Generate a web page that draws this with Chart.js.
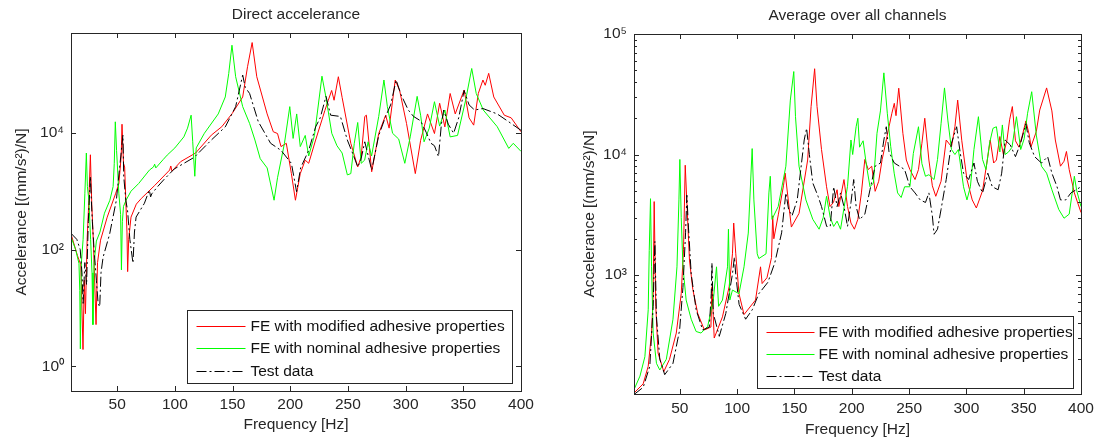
<!DOCTYPE html>
<html><head><meta charset="utf-8">
<script src="https://cdn.jsdelivr.net/npm/chart.js@4"></script>
<style>
html,body{margin:0;padding:0;background:#fff;}
#wrap{position:relative;width:1102px;height:442px;overflow:hidden;}
canvas{position:absolute;top:0;}
</style></head><body>
<div id="wrap">
<canvas id="c1" width="550" height="442" style="left:0"></canvas>
<canvas id="c2" width="552" height="442" style="left:550px"></canvas>
</div>
<script>
// ---------- DATA ([frequency Hz, accelerance (mm/s^2)/N]) ----------
const seriesLabels = ['FE with modified adhesive properties', 'FE with nominal adhesive properties', 'Test data'];
const xTicks = [50, 100, 150, 200, 250, 300, 350, 400];
const yTicksLeft = [1, 100, 10000];
const yTicksRight = [1000, 10000, 100000];
const yMinorRight = [200,300,400,500,600,700,800,900,2000,3000,4000,5000,6000,7000,8000,9000,20000,30000,40000,50000,60000,70000,80000,90000];

const directRed = [[10,185],[15.5,80],[18.5,55],[20.4,1.95],[21.5,30],[22.5,8],[24,150],[25.5,700],[26.8,4200],[28,600],[29.5,120],[31.7,5.2],[33,60],[35.6,145],[41.4,360],[48.6,900],[51.5,1350],[53.5,4000],[54.2,14000],[55.5,3000],[56.5,2600],[57.5,700],[58.5,200],[59.1,42],[60,150],[62,360],[66.6,600],[70.9,750],[82.5,1250],[95.5,2300],[96.5,2700],[97.5,2200],[105,3200],[118,4500],[131.6,9100],[140.7,12700],[149.7,21400],[158.8,41000],[163,135000],[167,350000],[171,91000],[180,21000],[185.3,10400],[189,9700],[192,5800],[196.6,6600],[201,2000],[204.5,700],[208.7,2000],[213,3400],[216,3000],[222,7500],[230,24000],[233,36000],[235.9,53000],[238,36000],[241.7,91000],[245,40000],[252.5,6600],[258.5,2600],[261.5,3900],[264.6,19000],[266,20000],[270.6,2150],[276.7,9700],[282.7,20000],[285.7,12000],[291,80000],[294.8,53000],[300.8,14400],[308.4,2000],[313,7400],[319,21000],[325,9700],[329.5,32000],[334,12600],[338.6,47000],[343,21000],[350.7,54000],[355,18000],[359,13500],[363,47000],[367,80000],[369,65000],[372,104000],[376.4,41000],[385.5,20000],[391.5,18000],[400,10400]];

const directGreen = [[10,165],[14,100],[16.9,58],[17.6,20],[18.1,2.0],[19,60],[20.5,150],[22,900],[23.3,4500],[24.2,1200],[25.5,700],[27,150],[28.2,40],[29,5.2],[30,60],[32,140],[35.1,200],[39,420],[43.7,700],[46.5,1200],[47.5,3000],[48.4,15400],[49.5,5000],[51.5,900],[53,400],[53.7,45],[54.5,300],[55.5,550],[57.7,700],[62,1000],[68.6,1350],[78,2300],[81.5,2600],[82.5,2900],[83.5,2500],[90,3500],[93.4,4150],[100,5500],[107.8,8500],[111,12000],[114.1,20000],[115.5,7000],[117.3,1800],[118.5,5500],[125.6,9800],[137.6,21000],[143.7,41000],[146.7,103000],[149.5,315000],[152.7,91000],[158.8,28000],[164.8,14400],[169.4,7500],[174,3600],[180,2500],[186,700],[189,1700],[195,6600],[199.6,28000],[202.5,8000],[205.6,21000],[208.7,5800],[213,9000],[216,4000],[221,9000],[227.5,93000],[231,40000],[236,9800],[240.5,6000],[245,4500],[249.5,1900],[252.5,2000],[255.5,6600],[258.5,15000],[261.5,3000],[264.5,3400],[267.5,7000],[270.5,4000],[276.7,19000],[281.2,80000],[284.2,28000],[288.7,9800],[294,7800],[299.3,3000],[304,8500],[310,42000],[313,20000],[316,7000],[320.5,12000],[325,34000],[329.5,13000],[334,24500],[338.6,8500],[345,9000],[352,36000],[357.3,126000],[361.2,47000],[367.3,24500],[379.4,12700],[389.4,5400],[393.3,6600],[400,4800]];

const directTest = [[10,190],[15,150],[18,100],[19.5,40],[20.5,12],[22,60],[23.5,25],[25,300],[26.8,1800],[27.5,800],[28.5,300],[30,100],[32,30],[33.5,12],[34.9,10.5],[36,40],[37.8,74],[43.5,185],[49.3,700],[52.2,2600],[55,9100],[55.7,1800],[57.5,700],[59,470],[61,150],[63.7,59],[65,200],[66.4,360],[73.6,620],[77.9,1050],[79,800],[80,900],[85.1,1200],[90.8,1600],[99.5,2400],[116.8,3800],[131.6,7500],[143.7,12600],[152.7,28000],[158.8,97000],[161,60000],[164.8,47000],[172.3,15500],[183,6600],[192,5000],[201,3000],[205.5,980],[209,2500],[216,5000],[222,12600],[226,18000],[231,42000],[235,20000],[243.5,19000],[249.5,7500],[255,4000],[258.5,2600],[261,3300],[264.6,7000],[270.6,2300],[276.7,9000],[282.7,19000],[287,30000],[291.8,80000],[296,45000],[302.3,24500],[306.9,19000],[313,16000],[318,10000],[322,6600],[325,6000],[328.5,3900],[331,14000],[333,24500],[337,14000],[341.6,9800],[346,18000],[350.7,53000],[355,30000],[359.8,24500],[367,26000],[379.4,21000],[391.5,14400],[400,11000]];

const avgRed = [[10,105],[18,125],[22.4,175],[25.3,330],[26.7,660],[27.6,4070],[29,550],[31,225],[36,158],[41,200],[46.9,330],[51.2,700],[53.2,1620],[54.7,8150],[56.4,3500],[58.4,1330],[61.3,760],[65.6,480],[71.4,350],[77.1,370],[78,800],[80,300],[87.2,450],[93,800],[95.9,1500],[97,2700],[98.8,1500],[101.6,700],[106,470],[116,620],[120.4,1170],[121.8,850],[126,950],[130,1400],[131,3100],[132,2000],[136,3200],[140.4,5500],[141.9,7000],[147.3,2500],[154,3250],[161.5,9000],[164.5,25000],[167.6,51500],[169.7,25000],[173.6,11000],[178,5400],[181,3700],[184,4000],[187.2,5100],[188.7,3700],[193.2,6200],[196.3,3700],[199.3,2700],[202.3,2400],[205.3,2900],[208.4,4800],[211.4,9100],[214.4,7500],[217.4,8000],[220.4,4950],[223.5,6000],[226.5,9100],[229.5,12400],[232.5,17000],[235,22000],[237.1,26600],[238.6,21000],[241,35500],[244.6,15000],[247.6,9000],[250.7,7500],[255.2,6200],[258.2,7500],[261.2,12400],[263.7,20000],[267.3,9000],[270.3,5500],[273.3,4500],[277.9,6000],[282.4,13200],[287,11600],[290,17000],[292.4,28300],[296,13000],[300.5,6200],[305.1,4200],[308.7,3600],[314.1,5000],[318.7,9600],[320.8,13200],[323.8,8500],[326.2,9000],[329.2,14100],[332.3,10000],[335.3,13000],[337.7,19400],[340.1,25000],[342.8,13000],[345.9,11500],[348.9,14500],[351.9,19000],[354.9,14500],[356.4,11600],[361,15500],[364,23400],[370,35700],[374.6,23000],[377.6,13200],[382.1,8000],[385.2,8800],[387.3,10600],[389.7,7500],[394.2,4800],[400,3300]];

const avgGreen = [[10,112],[15.2,145],[19.5,210],[22.4,515],[23.3,1600],[24.4,4300],[25.3,1170],[26.7,330],[29.6,185],[32.5,163],[38.2,200],[44,430],[47.5,1170],[49.2,4200],[50,9100],[51.2,3000],[52.7,1170],[55.5,620],[59.9,430],[64.2,340],[68.5,330],[74.3,375],[79.2,620],[82,1170],[83.8,550],[87.2,620],[91.6,1170],[92.4,2400],[93.6,620],[95.9,750],[101.6,700],[106,1170],[109.7,2230],[111.7,5800],[113.1,11200],[114.6,4200],[117.5,1500],[118.9,1370],[125.2,1500],[127.7,4800],[128.9,6600],[130.4,2900],[135.8,3700],[142.5,8000],[146.4,28300],[149.4,48800],[150.9,20600],[154,8000],[160,4200],[166,2900],[171.5,2400],[175.1,3000],[178,4500],[181.2,3000],[184.2,2530],[187.2,2800],[190.2,2400],[196.3,5450],[199.3,13200],[200.8,10000],[203.8,17000],[205.3,20000],[206.8,11500],[209.9,13000],[212.9,8000],[215.9,5400],[218.9,5800],[222,15000],[225,23000],[228,47600],[231,22000],[234,11600],[237,7000],[240,4800],[243.1,4400],[246.1,5400],[250.7,5400],[253.7,10200],[258.2,17000],[261.2,8400],[264.3,6600],[267.3,6800],[271.8,6200],[274.8,9100],[277.9,18000],[280.9,35700],[283.9,19000],[287,11000],[290,10000],[293,11000],[297.5,5400],[300.5,4200],[303.5,5400],[306.6,11000],[310.5,20600],[314.1,9100],[317.1,7500],[320.2,12400],[323.2,16500],[326.2,17000],[329.2,10500],[331.4,17600],[333.8,10000],[336.8,10500],[339.8,11500],[343.7,20600],[347.4,11000],[350.4,13500],[353.4,22000],[357,33200],[361,14500],[365.5,8000],[370,7000],[374.6,5100],[380.6,3500],[385.2,2960],[389.7,3200],[392.7,5100],[394.2,6600],[396.3,5000],[400,3700]];

const avgTest = [[10,102],[18,117],[23.8,175],[26.7,550],[28.2,1900],[29.6,450],[32.5,200],[36.8,149],[44,185],[49.8,350],[52.7,790],[55,2240],[56.1,4600],[57.5,2500],[59.9,1020],[64.2,515],[69.9,350],[75.7,370],[77.4,700],[78,1260],[79.2,480],[84.4,310],[90.1,480],[95.9,1020],[97.6,1410],[98.8,1000],[101.7,570],[107.4,430],[113.2,515],[118.9,700],[126.8,870],[132.8,1260],[138.8,2240],[142.5,4800],[144.9,3500],[147.9,3100],[152.4,4200],[155.5,7500],[158.5,13200],[160.6,16500],[163,10000],[166,5800],[170.6,4500],[173.6,3700],[178.1,2530],[181.2,2530],[184.2,5400],[187.2,3700],[190.2,4800],[193.2,3700],[196.3,2530],[199.3,4000],[201.7,6200],[203.8,3700],[206.8,2880],[211.4,3200],[215.9,5100],[220.4,8000],[225,8500],[228,13200],[230.1,17000],[232.5,10500],[237.1,8500],[241.6,8000],[246.1,7500],[250.7,5400],[255.2,4800],[259.7,4200],[264.3,4000],[267.3,4800],[270.3,3100],[271.8,2180],[274.8,2400],[277.9,3500],[282.4,6200],[287,12400],[291.5,17000],[294.5,10500],[297.5,7000],[302,6200],[306.6,8500],[309.6,6000],[314.1,4800],[318.7,7000],[322.6,5400],[327.7,5100],[330.8,7000],[333.8,13200],[338.3,12000],[342.8,9600],[347.4,12500],[351.9,18000],[354.9,12500],[359.5,9600],[365.5,8500],[370.9,9600],[374.6,7000],[379.1,5400],[382.1,4200],[386.7,4200],[391.2,4800],[395.7,5100],[400,5400]];

// ---------- STYLE ----------
const FONT = '"Liberation Sans", Arial, Helvetica, sans-serif';
const FS = 15.5;
const AXC = '#262626';
const SUP = {'0':'\u2070','1':'\u00b9','2':'\u00b2','3':'\u00b3','4':'\u2074','5':'\u2075','6':'\u2076'};
function logLabel(v){ const e = Math.round(Math.log10(v)); return '10' + String(e).split('').map(c=>SUP[c]||c).join(''); }

const seriesStyles = [
  {borderColor:'#ff0000', borderDash:[], order:3},
  {borderColor:'#00ff00', borderDash:[], order:2},
  {borderColor:'#000000', borderDash:[10,3,2,3], order:1}
];

const framePlugin = {
  id: 'matlabFrame',
  afterDatasetsDraw(chart, args, opts) {
    const {ctx, chartArea: a, scales: {x, y}} = chart;
    ctx.save();
    ctx.strokeStyle = AXC; ctx.lineWidth = 1;
    ctx.beginPath();
    xTicks.forEach(v => { const p = Math.round(x.getPixelForValue(v)) + 0.5;
      ctx.moveTo(p, a.bottom); ctx.lineTo(p, a.bottom - 5);
      ctx.moveTo(p, a.top); ctx.lineTo(p, a.top + 5); });
    (opts.major || []).forEach(v => { const p = Math.round(y.getPixelForValue(v)) + 0.5;
      ctx.moveTo(a.left, p); ctx.lineTo(a.left + 5, p);
      ctx.moveTo(a.right, p); ctx.lineTo(a.right - 5, p); });
    (opts.minor || []).forEach(v => { const p = Math.round(y.getPixelForValue(v)) + 0.5;
      ctx.moveTo(a.left, p); ctx.lineTo(a.left + 3, p);
      ctx.moveTo(a.right, p); ctx.lineTo(a.right - 3, p); });
    ctx.stroke();
    ctx.strokeRect(Math.round(a.left) + 0.5, Math.round(a.top) + 0.5, Math.round(a.right - a.left), Math.round(a.bottom - a.top));
    ctx.restore();
  },
  afterDraw(chart, args, opts) {
    const {ctx, chartArea: a} = chart;
    ctx.save();
    ctx.fillStyle = AXC;
    ctx.font = FS + 'px ' + FONT;
    ctx.textAlign = 'center'; ctx.textBaseline = 'middle';
    ctx.fillText(opts.title, (a.left + a.right) / 2, opts.titleY);
    const L = opts.legend;
    const bx = Math.round(a.right - L.fromRight) + 0.5, by = Math.round(a.bottom - L.fromBottom) + 0.5;
    ctx.fillStyle = '#fff';
    ctx.fillRect(bx, by, L.w, L.h);
    ctx.strokeStyle = AXC; ctx.lineWidth = 1;
    ctx.strokeRect(bx, by, L.w, L.h);
    chart.data.datasets.forEach((ds, i) => {
      const ry = Math.round(by + L.rows[i]) + 0.5;
      ctx.strokeStyle = ds.borderColor; ctx.lineWidth = 1;
      ctx.setLineDash(ds.borderDash || []);
      ctx.beginPath(); ctx.moveTo(bx + L.l0, ry); ctx.lineTo(bx + L.l1, ry); ctx.stroke();
      ctx.setLineDash([]);
      ctx.fillStyle = '#111';
      ctx.textAlign = 'left'; ctx.textBaseline = 'middle';
      ctx.fillText(ds.label, bx + L.tx, ry);
    });
    ctx.restore();
  }
};

function makeChart(id, sets, cfg) {
  return new Chart(document.getElementById(id), {
    type: 'line',
    data: {
      datasets: sets.map((s, i) => Object.assign({
        label: seriesLabels[i],
        data: s.map(p => ({x: p[0], y: p[1]})),
        borderWidth: 1, pointRadius: 0, tension: 0, fill: false
      }, seriesStyles[i]))
    },
    options: {
      responsive: false, animation: false,
      layout: {padding: cfg.pad},
      plugins: {
        legend: {display: false}, tooltip: {enabled: false}, title: {display: false},
        matlabFrame: {title: cfg.title, titleY: cfg.titleY, major: cfg.yTicks, minor: cfg.minor, legend: cfg.legend}
      },
      scales: {
        x: {
          type: 'linear', min: 10, max: 400,
          grid: {display: false, drawTicks: false}, border: {display: false},
          afterBuildTicks: s => { s.ticks = xTicks.map(v => ({value: v})); },
          afterFit: s => { s.height = cfg.xH; },
          ticks: {color: AXC, font: {family: FONT, size: FS}, padding: cfg.xTickPad, maxRotation: 0, autoSkip: false},
          title: {display: true, text: 'Frequency [Hz]', color: AXC, font: {family: FONT, size: FS}, padding: {top: 0, bottom: cfg.xTitlePad}}
        },
        y: {
          type: 'logarithmic', min: cfg.yMin, max: cfg.yMax,
          grid: {display: false, drawTicks: false}, border: {display: false},
          afterBuildTicks: s => { s.ticks = cfg.yTicks.map(v => ({value: v})); },
          afterFit: s => { s.width = cfg.yW; },
          ticks: {color: AXC, font: {family: FONT, size: FS}, padding: 7, autoSkip: false, callback: v => logLabel(v)},
          title: {display: true, text: 'Accelerance [(mm/s\u00b2)/N]', color: AXC, font: {family: FONT, size: FS}, padding: {top: cfg.yTitlePad, bottom: 0}}
        }
      }
    },
    plugins: [framePlugin]
  });
}

makeChart('c1', [directRed, directGreen, directTest], {
  title: 'Direct accelerance', titleY: 15,
  pad: {left: 4, right: 29, top: 33, bottom: 0},
  yW: 67, xH: 51, xTickPad: 4, xTitlePad: 8, yTitlePad: 8,
  yMin: 0.38, yMax: 510000, yTicks: yTicksLeft, minor: [],
  legend: {fromRight: 334, fromBottom: 81, w: 325, h: 73, rows: [15, 37.5, 60], l0: 9, l1: 58, tx: 63}
});

makeChart('c2', [avgRed, avgGreen, avgTest], {
  title: 'Average over all channels', titleY: 16,
  pad: {left: 4, right: 21, top: 34, bottom: 0},
  yW: 80, xH: 48, xTickPad: 5, xTitlePad: 3, yTitlePad: 26,
  yMin: 103, yMax: 100000, yTicks: yTicksRight, minor: yMinorRight,
  legend: {fromRight: 324, fromBottom: 78, w: 316, h: 72, rows: [15, 37, 59], l0: 9, l1: 57, tx: 61}
});
</script>
</body></html>
